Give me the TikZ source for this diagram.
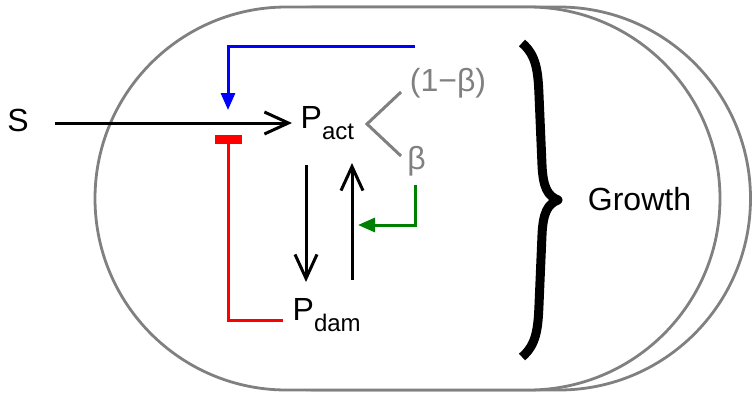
\documentclass[tikz,border=0pt]{standalone}
\usepackage{fontspec}
\setmainfont{Liberation Sans}
\usetikzlibrary{arrows.meta}
\definecolor{grayc}{RGB}{128,128,128}
\definecolor{greenc}{RGB}{0,128,0}
\newcommand{\subtxt}[1]{\raisebox{-11pt}{\fontsize{24}{24}\selectfont #1}}
\begin{document}
\begin{tikzpicture}[x=1pt,y=-1pt,
  txt/.style={font=\fontsize{32}{32}\selectfont, inner sep=0pt},
  cell/.style={draw=grayc, line width=2.8pt, rounded corners=191.5pt},
  ln/.style={line width=3pt},
  openhead/.style={-{Straight Barb[length=24pt,width=22pt,line width=3pt]}},
  fillhead/.style={-{Triangle[length=17pt,width=14pt]}},
  barhead/.style={-{Rectangle[length=9pt,width=27pt]}}]
\useasboundingbox (0,0) rectangle (752,397);
% cells
\draw[cell] (127,7) rectangle (750.5,390);
\draw[cell, fill=white] (95,7) rectangle (720,390);
% text nodes
\node[txt, anchor=base] (S) at (18,131) {S};
\node[txt, anchor=base west] (Pact) at (300.5,128) {P\subtxt{act}};
\node[txt, anchor=base west] (Pdam) at (292.5,320) {P\subtxt{dam}};
\node[txt, anchor=base, text=grayc] (omb) at (448,91) {(1−β)};
\node[txt, anchor=base, text=grayc] (b) at (416.5,169) {β};
\node[txt, anchor=base] (G) at (639.5,210) {Growth};
% coordinates
\coordinate (sOut) at (55,123);
\coordinate (pIn) at (292,123);
\coordinate (blueStart) at (415,46);
\coordinate (blueEnd) at (228,110);
\coordinate (redEnd) at (228,135);
\coordinate (redStart) at (283,320);
\coordinate (dTop) at (306,165);
\coordinate (dBot) at (306,282);
\coordinate (uBot) at (352,280);
\coordinate (uTop) at (352,163);
\coordinate (gStart) at (415,185);
\coordinate (gEnd) at (358,225);
\coordinate (fork) at (367,124);
\coordinate (forkU) at (401,92);
\coordinate (forkL) at (401,156);
% connectors
\draw[ln, openhead] (sOut) -- (pIn);
\draw[ln, blue, fillhead] (blueStart) -- (blueEnd |- blueStart) -- (blueEnd);
\draw[ln, red, barhead] (redStart) -- (redEnd |- redStart) -- (redEnd);
\draw[ln, openhead] (dTop) -- (dBot);
\draw[ln, openhead] (uBot) -- (uTop);
\draw[ln, greenc, fillhead] (gStart) -- (gStart |- gEnd) -- (gEnd);
\draw[ln, grayc] (forkU) -- (fork) -- (forkL);
% brace
\draw[line width=9pt, line join=round]
  (522,43) .. controls (536,55) and (538,70) .. (539,95)
  -- (542,165) .. controls (543,188) and (548,196) .. (558,200)
  .. controls (548,204) and (543,212) .. (542,235)
  -- (539,305) .. controls (538,330) and (536,345) .. (522,357);
\end{tikzpicture}
\end{document}
